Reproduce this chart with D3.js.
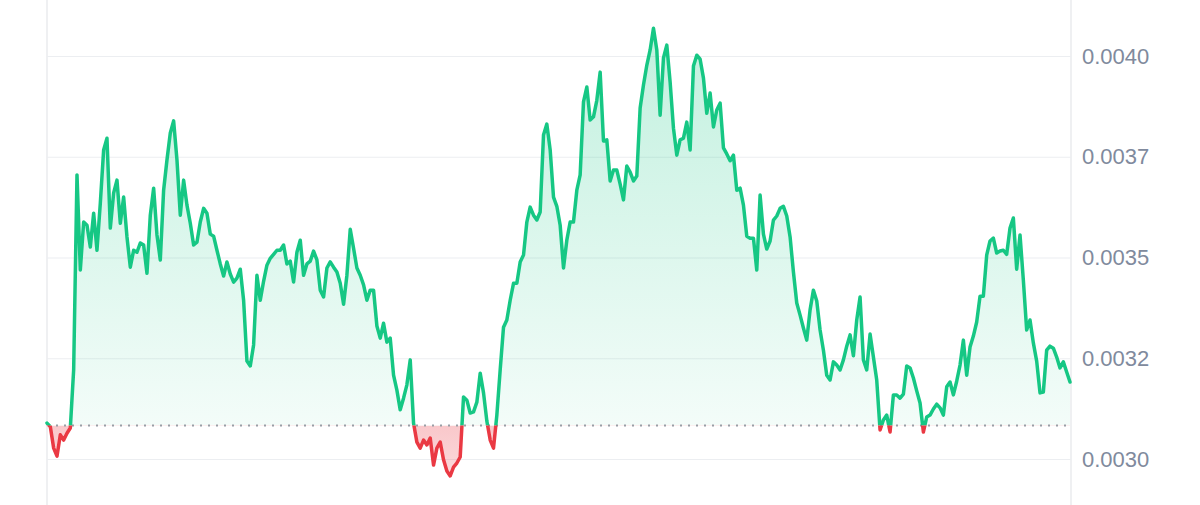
<!DOCTYPE html>
<html>
<head>
<meta charset="utf-8">
<script src="https://cdn.jsdelivr.net/npm/d3@7"></script>
<style>
  html, body { margin: 0; padding: 0; background: #ffffff; }
  svg { display: block; }
</style>
</head>
<body>
<svg id="chart" width="1200" height="505"></svg>
<script>
// ---- data (price in USD, evenly spaced in time) ----
const prices = [
  0.003089, 0.003080, 0.003027, 0.003007, 0.003060, 0.003047, 0.003064, 0.003077, 0.003221, 0.003705,
  0.003469, 0.003588, 0.003580, 0.003526, 0.003610, 0.003518, 0.003635, 0.003767, 0.003796, 0.003573,
  0.003660, 0.003692, 0.003585, 0.003650, 0.003551, 0.003476, 0.003518, 0.003513, 0.003536, 0.003531,
  0.003461, 0.003605, 0.003672, 0.003556, 0.003494, 0.003667, 0.003742, 0.003809, 0.003839, 0.003742,
  0.003605, 0.003692, 0.003630, 0.003585, 0.003531, 0.003538, 0.003588, 0.003622, 0.003610, 0.003558,
  0.003553, 0.003518, 0.003484, 0.003454, 0.003489, 0.003459, 0.003439, 0.003449, 0.003471, 0.003394,
  0.003243, 0.003231, 0.003283, 0.003456, 0.003394, 0.003441, 0.003481, 0.003498, 0.003508, 0.003518,
  0.003518, 0.003531, 0.003484, 0.003491, 0.003439, 0.003513, 0.003543, 0.003456, 0.003484, 0.003491,
  0.003516, 0.003494, 0.003419, 0.003402, 0.003474, 0.003489, 0.003476, 0.003464, 0.003436, 0.003384,
  0.003456, 0.003570, 0.003523, 0.003474, 0.003456, 0.003432, 0.003394, 0.003419, 0.003419, 0.003330,
  0.003300, 0.003337, 0.003290, 0.003300, 0.003208, 0.003171, 0.003122, 0.003151, 0.003184, 0.003246,
  0.003089, 0.003042, 0.003027, 0.003047, 0.003035, 0.003052, 0.002985, 0.003027, 0.003042, 0.002998,
  0.002970, 0.002958, 0.002980, 0.002990, 0.003005, 0.003154, 0.003146, 0.003114, 0.003117, 0.003141,
  0.003213, 0.003164, 0.003094, 0.003047, 0.003027, 0.003109, 0.003221, 0.003327, 0.003345, 0.003394,
  0.003436, 0.003436, 0.003489, 0.003506, 0.003588, 0.003625, 0.003605, 0.003593, 0.003613, 0.003804,
  0.003831, 0.003767, 0.003650, 0.003627, 0.003580, 0.003474, 0.003543, 0.003588, 0.003588, 0.003667,
  0.003705, 0.003886, 0.003923, 0.003841, 0.003849, 0.003890, 0.003960, 0.003789, 0.003792, 0.003690,
  0.003717, 0.003717, 0.003682, 0.003643, 0.003727, 0.003712, 0.003690, 0.003702, 0.003871, 0.003928,
  0.003977, 0.004015, 0.004069, 0.004015, 0.003853, 0.003995, 0.004027, 0.003935, 0.003821, 0.003754,
  0.003792, 0.003796, 0.003836, 0.003767, 0.003975, 0.004002, 0.003992, 0.003945, 0.003858, 0.003908,
  0.003824, 0.003866, 0.003883, 0.003772, 0.003757, 0.003740, 0.003754, 0.003667, 0.003672, 0.003630,
  0.003553, 0.003548, 0.003548, 0.003469, 0.003655, 0.003558, 0.003521, 0.003541, 0.003593, 0.003603,
  0.003622, 0.003627, 0.003603, 0.003551, 0.003464, 0.003387, 0.003357, 0.003325, 0.003295, 0.003370,
  0.003419, 0.003392, 0.003320, 0.003270, 0.003208, 0.003196, 0.003241, 0.003233, 0.003221, 0.003246,
  0.003280, 0.003308, 0.003256, 0.003345, 0.003402, 0.003246, 0.003221, 0.003310, 0.003253, 0.003196,
  0.003072, 0.003097, 0.003109, 0.003067, 0.003159, 0.003159, 0.003151, 0.003161, 0.003231, 0.003226,
  0.003201, 0.003169, 0.003139, 0.003067, 0.003104, 0.003109, 0.003124, 0.003136, 0.003127, 0.003109,
  0.003179, 0.003191, 0.003159, 0.003193, 0.003233, 0.003295, 0.003208, 0.003278, 0.003305, 0.003340,
  0.003404, 0.003404, 0.003506, 0.003541, 0.003548, 0.003511, 0.003516, 0.003518, 0.003508, 0.003573,
  0.003598, 0.003471, 0.003556, 0.003444, 0.003320, 0.003345, 0.003288, 0.003243, 0.003164, 0.003166,
  0.003270, 0.003280, 0.003275, 0.003253, 0.003226, 0.003241, 0.003216, 0.003191
];
const referencePrice = 0.003083;   // opening price (dotted line)
const tickValues = [0.0030, 0.00325, 0.0035, 0.00375, 0.0040];
const tickLabels = ["0.0030", "0.0032", "0.0035", "0.0037", "0.0040"];
const yDomain = [0.0030, 0.0040];

// ---- layout ----
const W = 1200, H = 505;
const left = 47, right = 1071;
const upColor = "#16c784", downColor = "#ea3943";

const svg = d3.select("#chart");
const x = d3.scaleLinear().domain([0, prices.length - 1]).range([left, right - 1]);
const y = d3.scaleLinear().domain(yDomain).range([459, 56]);
const baseY = y(referencePrice);

const defs = svg.append("defs");
const gUp = defs.append("linearGradient").attr("id", "gUp")
  .attr("gradientUnits", "userSpaceOnUse").attr("x1", 0).attr("x2", 0).attr("y1", 20).attr("y2", baseY);
gUp.append("stop").attr("offset", 0).attr("stop-color", upColor).attr("stop-opacity", 0.27);
gUp.append("stop").attr("offset", 1).attr("stop-color", upColor).attr("stop-opacity", 0.05);
const gDown = defs.append("linearGradient").attr("id", "gDown")
  .attr("gradientUnits", "userSpaceOnUse").attr("x1", 0).attr("x2", 0).attr("y1", baseY).attr("y2", H);
gDown.append("stop").attr("offset", 0).attr("stop-color", downColor).attr("stop-opacity", 0.28);
gDown.append("stop").attr("offset", 1).attr("stop-color", downColor).attr("stop-opacity", 0.14);

defs.append("clipPath").attr("id", "clipUp").append("rect")
  .attr("x", 0).attr("y", 0).attr("width", W).attr("height", baseY);
defs.append("clipPath").attr("id", "clipDown").append("rect")
  .attr("x", 0).attr("y", baseY).attr("width", W).attr("height", H - baseY);

// vertical borders
svg.append("g").selectAll("line").data([left, right]).join("line")
  .attr("x1", d => d).attr("x2", d => d).attr("y1", 0).attr("y2", H)
  .attr("stroke", "#eff0f2").attr("stroke-width", 2);

// grid + right axis labels
const axis = d3.axisRight(y).tickValues(tickValues)
  .tickFormat((d, i) => tickLabels[i])
  .tickSize(right - left).tickPadding(11);
const ag = svg.append("g").attr("transform", `translate(${left},0)`).call(axis);
ag.select(".domain").remove();
ag.selectAll(".tick line").attr("stroke", "#eceef1").attr("stroke-width", 1.2);
ag.selectAll(".tick text")
  .attr("fill", "#808a9d")
  .style("font-family", "'Liberation Sans', Arial, Helvetica, sans-serif")
  .style("font-size", "22px");

// area + line
const area = d3.area().x((d, i) => x(i)).y0(baseY).y1(d => y(d));
const line = d3.line().x((d, i) => x(i)).y(d => y(d));

svg.append("path").datum(prices).attr("d", area)
  .attr("fill", "url(#gUp)").attr("clip-path", "url(#clipUp)");
svg.append("path").datum(prices).attr("d", area)
  .attr("fill", "url(#gDown)").attr("clip-path", "url(#clipDown)");

// dotted reference line
svg.append("line")
  .attr("x1", left + 1).attr("x2", right - 1).attr("y1", baseY).attr("y2", baseY)
  .attr("stroke", "#999ea6").attr("stroke-width", 2).attr("stroke-dasharray", "2 6");

svg.append("path").datum(prices).attr("d", line)
  .attr("fill", "none").attr("stroke", upColor).attr("stroke-width", 3.5)
  .attr("stroke-linejoin", "round").attr("stroke-linecap", "round")
  .attr("clip-path", "url(#clipUp)");
svg.append("path").datum(prices).attr("d", line)
  .attr("fill", "none").attr("stroke", downColor).attr("stroke-width", 3.5)
  .attr("stroke-linejoin", "round").attr("stroke-linecap", "round")
  .attr("clip-path", "url(#clipDown)");
</script>
</body>
</html>
